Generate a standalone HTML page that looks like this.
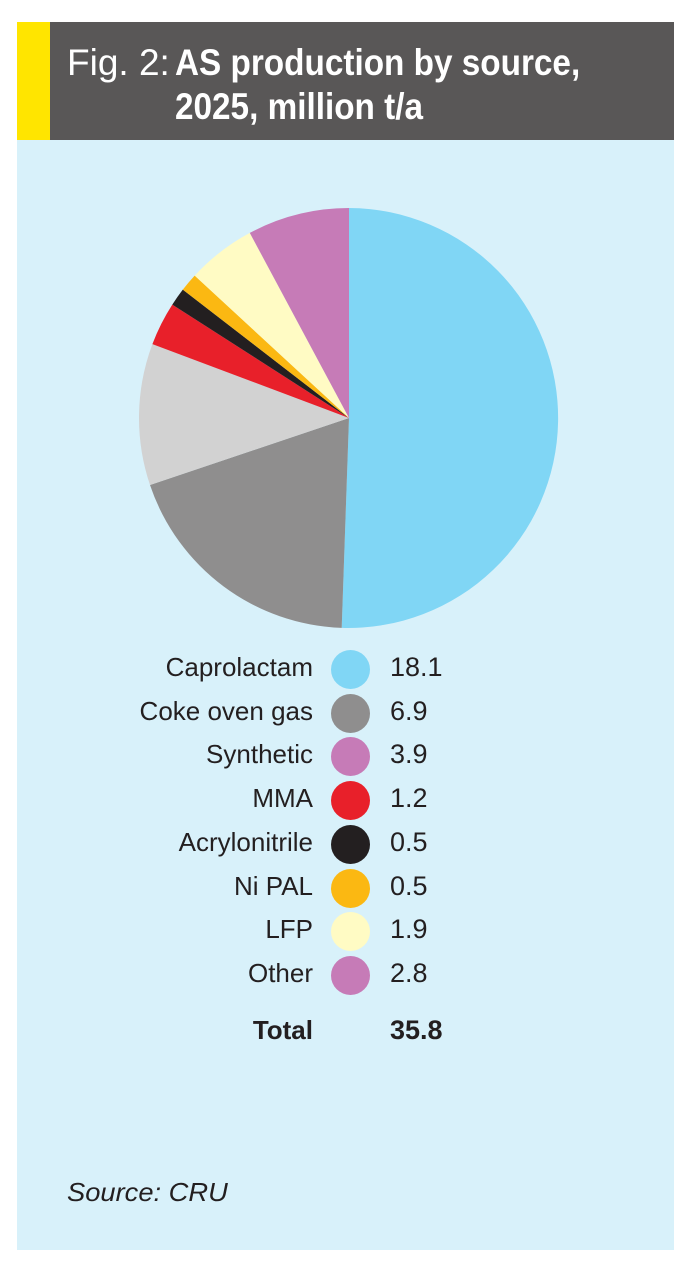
<!DOCTYPE html>
<html><head><meta charset="utf-8"><style>
html,body{margin:0;padding:0;background:#fff;}
body{width:691px;height:1278px;position:relative;overflow:hidden;font-family:"Liberation Sans Narrow","Liberation Sans",sans-serif;}
#hdr{position:absolute;left:17px;top:22px;width:657px;height:118px;background:#595757;}
#yb{position:absolute;left:17px;top:22px;width:33px;height:118px;background:#ffe500;}
#panel{position:absolute;left:17px;top:140px;width:657px;height:1110px;background:#d8f1fa;}
.t{position:absolute;color:#fff;font-size:37px;white-space:nowrap;transform-origin:0 0;}
.lab{position:absolute;right:378px;font-size:26px;color:#231f20;white-space:nowrap;}
.val{position:absolute;left:390px;font-size:27px;color:#231f20;}
.dot{position:absolute;left:331px;width:39px;height:39px;border-radius:50%;}
</style></head><body>
<div id="hdr"></div><div id="yb"></div><div id="panel"></div>
<div class="t" style="left:67px;top:42px;font-weight:300">Fig. 2:</div>
<div class="t" style="left:175px;top:42px;font-weight:bold;transform:scaleX(0.9)">AS production by source,</div>
<div class="t" style="left:175px;top:86px;font-weight:bold;transform:scaleX(0.9)">2025, million t/a</div>
<svg style="position:absolute;left:0;top:0" width="691" height="700">
<path d="M349,418 L349,208 A210,210 0 1 1 341.7,627.9 Z" fill="#80d6f5"/>
<path d="M349,418 L341.7,627.9 A210,210 0 0 1 150,485 Z" fill="#8f8e8e"/>
<path d="M349,418 L150,485 A210,210 0 0 1 152.4,344.1 Z" fill="#d2d2d2"/>
<path d="M349,418 L152.4,344.1 A210,210 0 0 1 172.3,304.6 Z" fill="#e8202a"/>
<path d="M349,418 L172.3,304.6 A210,210 0 0 1 182.8,289.6 Z" fill="#231f20"/>
<path d="M349,418 L182.8,289.6 A210,210 0 0 1 194.7,275.6 Z" fill="#fbb812"/>
<path d="M349,418 L194.7,275.6 A210,210 0 0 1 249.8,232.9 Z" fill="#fffbc4"/>
<path d="M349,418 L249.8,232.9 A210,210 0 0 1 349,208 Z" fill="#c67bb7"/>
</svg>
<div class="lab" style="top:652px">Caprolactam</div><div class="dot" style="top:650px;background:#80d6f5"></div><div class="val" style="top:652px">18.1</div>
<div class="lab" style="top:696px">Coke oven gas</div><div class="dot" style="top:694px;background:#8f8e8e"></div><div class="val" style="top:696px">6.9</div>
<div class="lab" style="top:739px">Synthetic</div><div class="dot" style="top:737px;background:#c67bb7"></div><div class="val" style="top:739px">3.9</div>
<div class="lab" style="top:783px">MMA</div><div class="dot" style="top:781px;background:#e8202a"></div><div class="val" style="top:783px">1.2</div>
<div class="lab" style="top:827px">Acrylonitrile</div><div class="dot" style="top:825px;background:#231f20"></div><div class="val" style="top:827px">0.5</div>
<div class="lab" style="top:871px">Ni PAL</div><div class="dot" style="top:869px;background:#fbb812"></div><div class="val" style="top:871px">0.5</div>
<div class="lab" style="top:914px">LFP</div><div class="dot" style="top:912px;background:#fffbc4"></div><div class="val" style="top:914px">1.9</div>
<div class="lab" style="top:958px">Other</div><div class="dot" style="top:956px;background:#c67bb7"></div><div class="val" style="top:958px">2.8</div>
<div class="lab" style="top:1015px;font-weight:bold">Total</div><div class="val" style="top:1015px;font-weight:bold">35.8</div>
<div style="position:absolute;left:67px;top:1177px;font-size:26px;font-style:italic;color:#231f20;font-family:'Liberation Sans',sans-serif;transform:scaleX(1.05);transform-origin:0 0">Source: CRU</div>
</body></html>
